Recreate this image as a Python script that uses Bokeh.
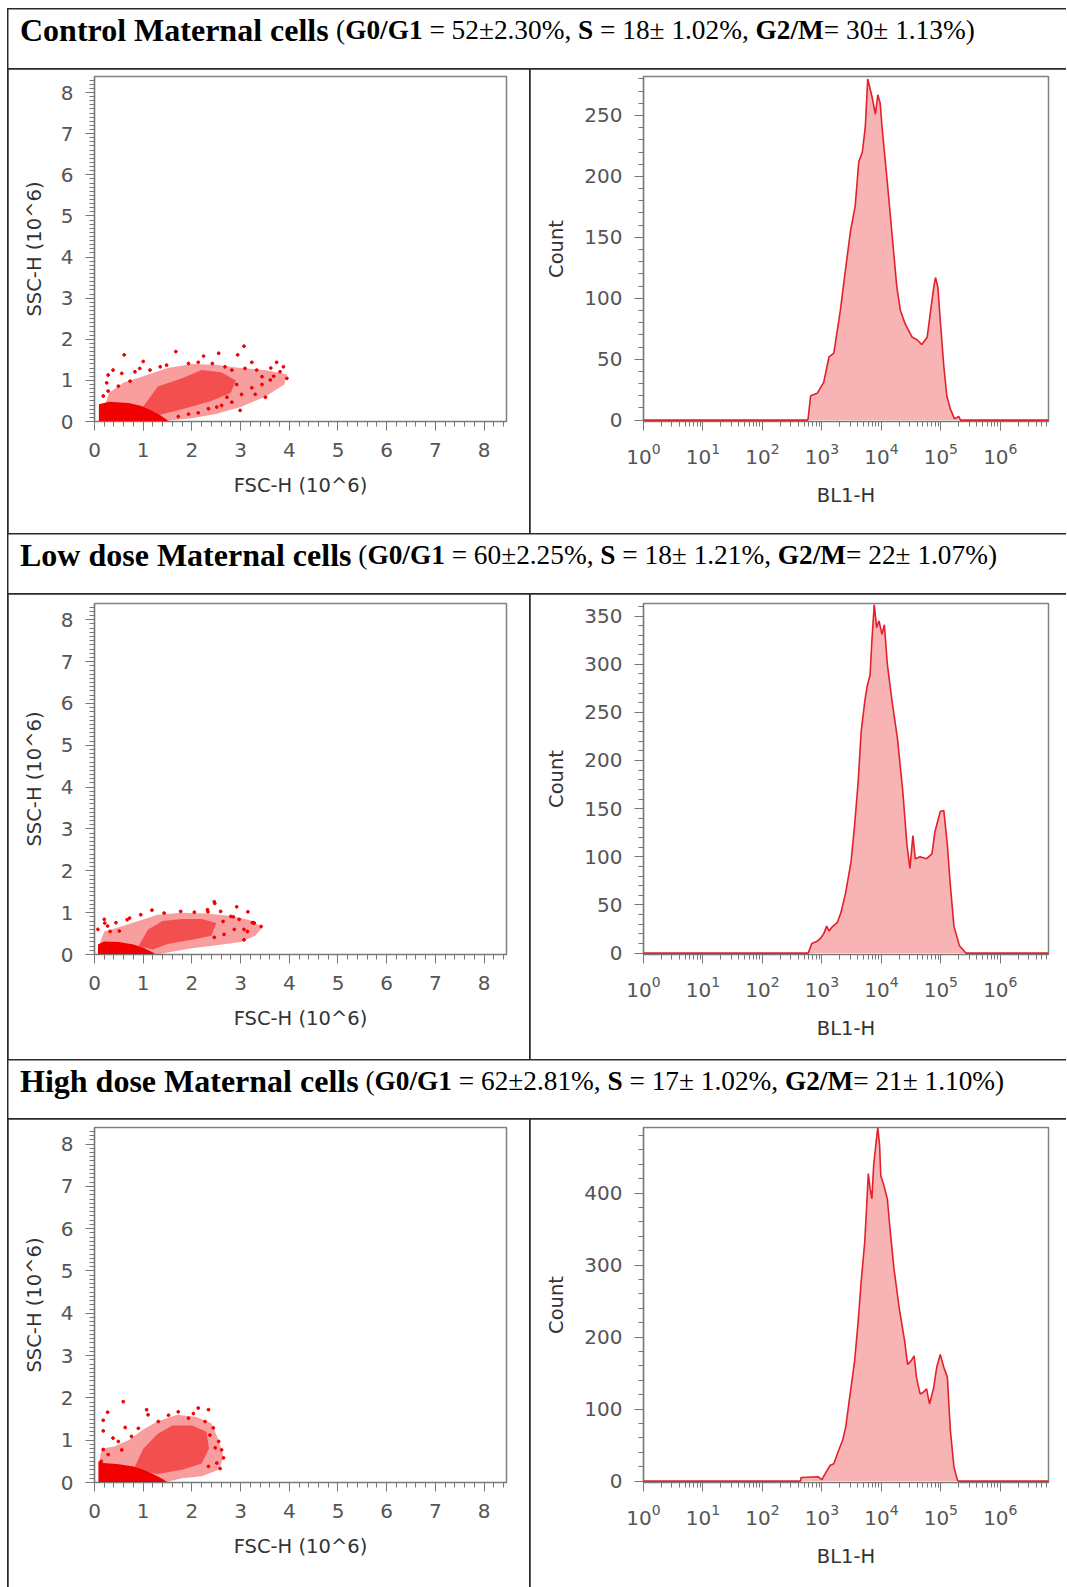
from bokeh.plotting import figure
from bokeh.models import Range1d, SingleIntervalTicker, LogTicker
from bokeh.layouts import row, column
from bokeh.embed import file_html
from bokeh.resources import INLINE
from bokeh.core.properties import value

# ---------------- header data ----------------
groups = ["Control Maternal cells", "Low dose Maternal cells", "High dose Maternal cells"]
g0g1_mean = [52, 60, 62]
g0g1_sd = [2.30, 2.25, 2.81]
s_mean = [18, 18, 17]
s_sd = [1.02, 1.21, 1.02]
g2m_mean = [30, 22, 21]
g2m_sd = [1.13, 1.07, 1.10]

# ---------------- scatter data (FSC-H, SSC-H in 10^6) ----------------
# dense core outline
ctrl_core_x = [0.09, 0.09, 0.30, 0.70, 0.95, 1.15, 1.35, 1.50, 1.50]
ctrl_core_y = [0.00, 0.42, 0.48, 0.45, 0.38, 0.28, 0.15, 0.03, 0.00]
# medium density outline
ctrl_mid_x = [0.90, 1.30, 1.80, 2.20, 2.60, 2.90, 2.80, 2.40, 1.80, 1.30]
ctrl_mid_y = [0.20, 0.85, 1.05, 1.25, 1.20, 1.00, 0.70, 0.50, 0.30, 0.15]
# sparse outline
ctrl_out_x = [0.20, 0.30, 0.60, 1.00, 1.50, 2.00, 2.50, 3.00, 3.50, 3.95, 3.90, 3.50, 3.00, 2.50, 2.00, 1.50, 1.40]
ctrl_out_y = [0.35, 0.70, 0.95, 1.10, 1.30, 1.40, 1.38, 1.30, 1.25, 1.15, 0.90, 0.60, 0.35, 0.18, 0.08, 0.02, 0.00]
# scattered events
ctrl_pts_x = [0.61, 1.67, 3.07, 2.94, 2.55, 2.24, 1.00, 0.38, 3.74, 3.88, 3.95, 3.62, 3.44, 3.51, 3.23, 0.25,
              0.28, 0.56, 2.99, 3.30, 2.82, 2.51, 3.68, 0.83, 0.93, 1.14, 1.35, 1.48, 1.93, 2.13, 2.42, 2.68,
              2.82, 3.09, 3.33, 3.44, 3.23, 3.02, 2.92, 2.72, 2.61, 2.34, 2.13, 1.93, 1.72, 0.28, 0.18, 0.49,
              0.73, 3.61, 3.81]
ctrl_pts_y = [1.62, 1.70, 1.83, 1.62, 1.66, 1.59, 1.46, 1.25, 1.44, 1.33, 1.05, 1.30, 1.09, 0.59, 1.44, 0.94,
              1.13, 1.17, 0.27, 0.66, 0.47, 0.35, 1.10, 1.21, 1.29, 1.25, 1.33, 1.37, 1.41, 1.44, 1.41, 1.33,
              1.25, 1.29, 1.25, 0.90, 0.82, 0.66, 0.90, 0.59, 0.39, 0.31, 0.21, 0.18, 0.12, 0.74, 0.62, 0.86,
              0.98, 1.01, 1.21]

low_core_x = [0.07, 0.07, 0.20, 0.50, 0.80, 1.00, 1.20, 1.25]
low_core_y = [0.00, 0.24, 0.31, 0.30, 0.24, 0.16, 0.05, 0.00]
low_mid_x = [0.90, 1.10, 1.40, 1.80, 2.20, 2.50, 2.40, 2.00, 1.50, 1.20]
low_mid_y = [0.20, 0.60, 0.80, 0.85, 0.85, 0.75, 0.45, 0.35, 0.25, 0.12]
low_out_x = [0.10, 0.20, 0.50, 0.90, 1.30, 1.80, 2.30, 2.80, 3.20, 3.45, 3.30, 3.00, 2.50, 2.00, 1.50, 1.30]
low_out_y = [0.25, 0.55, 0.65, 0.80, 0.95, 1.00, 0.98, 0.92, 0.82, 0.65, 0.45, 0.30, 0.22, 0.15, 0.05, 0.00]
low_pts_x = [2.47, 2.92, 3.15, 2.33, 1.18, 0.21, 3.42, 3.28, 3.07, 3.14, 2.85, 2.64, 0.32, 0.67, 2.46, 3.24,
             0.20, 0.44, 0.72, 0.95, 1.43, 1.77, 2.05, 2.32, 2.59, 2.80, 2.97, 2.87, 2.66, 2.46, 3.27, 3.07,
             0.07, 0.27, 0.51]
low_pts_y = [1.22, 1.14, 1.02, 1.02, 1.06, 0.75, 0.67, 0.75, 0.35, 0.55, 0.90, 0.79, 0.55, 0.83, 1.26, 0.76,
             0.84, 0.76, 0.87, 0.95, 0.99, 1.03, 1.01, 1.07, 1.03, 0.91, 0.84, 0.60, 0.48, 0.41, 0.76, 0.60,
             0.60, 0.68, 0.56]

high_core_x = [0.08, 0.08, 0.20, 0.50, 0.80, 1.00, 1.20, 1.40, 1.50]
high_core_y = [0.00, 0.50, 0.46, 0.43, 0.38, 0.30, 0.20, 0.08, 0.00]
high_mid_x = [0.80, 1.00, 1.30, 1.60, 2.00, 2.30, 2.35, 2.20, 1.80, 1.30]
high_mid_y = [0.30, 0.80, 1.15, 1.35, 1.35, 1.20, 0.80, 0.45, 0.30, 0.20]
high_out_x = [0.10, 0.15, 0.40, 0.70, 1.00, 1.30, 1.70, 2.10, 2.40, 2.55, 2.65, 2.55, 2.20, 1.80, 1.50, 1.50]
high_out_y = [0.50, 0.80, 0.85, 1.00, 1.25, 1.45, 1.60, 1.55, 1.40, 1.00, 0.60, 0.30, 0.15, 0.10, 0.02, 0.00]
high_pts_x = [0.59, 0.27, 0.18, 1.07, 1.10, 2.13, 2.65, 2.58, 2.34, 0.18, 0.63, 0.49, 0.18, 2.48, 2.44,
              1.52, 1.72, 1.93, 2.03, 2.27, 2.37, 2.55, 2.61, 2.51, 2.34, 1.31, 0.90, 0.76, 0.38, 0.28, 0.56, 0.14]
high_pts_y = [1.91, 1.66, 1.47, 1.72, 1.60, 1.76, 0.58, 0.33, 1.72, 1.22, 1.30, 0.97, 0.78, 0.82, 1.29,
              1.59, 1.67, 1.52, 1.63, 1.44, 1.12, 0.97, 0.77, 0.46, 0.38, 1.44, 1.28, 1.09, 1.05, 0.66, 0.77, 0.50]

# ---------------- histogram data (log10 BL1-H, Count) ----------------
ctrl_log = [0.0, 2.76, 2.77, 2.81, 2.92, 3.03, 3.12, 3.20, 3.31, 3.40, 3.48, 3.56, 3.62, 3.68, 3.73, 3.77,
            3.84, 3.90, 3.94, 3.98, 4.01, 4.10, 4.18, 4.26, 4.32, 4.40, 4.52, 4.60, 4.68, 4.77, 4.82, 4.88,
            4.91, 4.95, 4.99, 5.05, 5.10, 5.16, 5.23, 5.30, 5.33, 6.81]
ctrl_cnt = [0, 0, 2, 20, 22, 31, 52, 55, 90, 125, 155, 176, 212, 220, 241, 280,
            266, 251, 267, 260, 241, 195, 152, 109, 90, 79, 68, 66, 62, 68, 87, 109,
            117, 109, 82, 44, 20, 9, 1, 3, 0, 0]

low_log = [0.0, 2.77, 2.83, 2.91, 2.97, 3.03, 3.08, 3.12, 3.17, 3.26, 3.32, 3.40, 3.49, 3.55, 3.61, 3.66,
           3.72, 3.76, 3.81, 3.84, 3.88, 3.92, 3.96, 4.01, 4.05, 4.10, 4.18, 4.27, 4.36, 4.43, 4.48, 4.53,
           4.57, 4.65, 4.76, 4.85, 4.90, 4.99, 5.05, 5.11, 5.16, 5.22, 5.31, 5.42, 6.81]
low_cnt = [0, 0, 10, 12, 15, 20, 28, 23, 27, 32, 42, 63, 95, 133, 178, 230,
           261, 277, 289, 324, 362, 338, 345, 331, 341, 300, 261, 223, 168, 112, 88, 122,
           98, 100, 98, 103, 126, 147, 148, 112, 70, 28, 8, 0, 0]

high_log = [0.0, 2.64, 2.65, 2.94, 3.00, 3.06, 3.14, 3.20, 3.26, 3.35, 3.40, 3.46, 3.55, 3.61, 3.66, 3.72,
            3.75, 3.78, 3.81, 3.84, 3.87, 3.91, 3.94, 3.97, 3.99, 4.04, 4.10, 4.15, 4.21, 4.30, 4.39, 4.44,
            4.50, 4.55, 4.59, 4.65, 4.70, 4.76, 4.81, 4.88, 4.93, 4.99, 5.05, 5.11, 5.16, 5.22, 5.28, 5.30, 6.81]
high_cnt = [0, 0, 5, 6, 2, 11, 22, 24, 38, 57, 75, 112, 167, 222, 277, 332,
            378, 427, 406, 392, 438, 470, 491, 466, 424, 411, 392, 346, 296, 240, 195, 162,
            167, 174, 144, 121, 123, 128, 107, 130, 158, 176, 158, 144, 70, 20, 1, 0, 0]

# ---------------- helpers ----------------
RED = "#f00000"
AX = "#777777"
TICKC = "#555555"
GRIDC = "#2a2a2a"

REG_W = {' ': .25, '(': .333, ')': .333, '=': .564, '±': .549, '%': .833, ',': .25, '.': .25, '/': .278}
BOLD_W = {' ': .25, '/': .278, 'G': .778, 'S': .556, 'M': .944, 'C': .722, 'L': .667, 'H': .778,
          'o': .5, 'n': .556, 't': .333, 'r': .444, 'l': .278, 'a': .5, 'e': .444, 'c': .444,
          's': .389, 'w': .722, 'd': .556, 'i': .278, 'g': .5, 'h': .556}
for dgt in "0123456789":
    REG_W[dgt] = .5
    BOLD_W[dgt] = .5

HW = 1058
HEADER_H = [59, 59, 58]
ROW_H = [464, 465, 468]
CW_L, CW_R = 521, 536
HIST_TOP = [4, 9, 8]
HIST_Y0 = [352, 360, 363]
SC_TOP = 7
SC_Y0 = 365


def header(i):
    H = HEADER_H[i]
    p = figure(width=HW, height=H, x_range=Range1d(0, HW), y_range=Range1d(0, H), title=None,
               output_backend="svg", toolbar_location=None, x_axis_type=None, y_axis_type=None,
               min_border=0)
    p.outline_line_color = None
    segs = [(groups[i], "T"), (" (", "R"), ("G0/G1", "B"),
            (f" = {g0g1_mean[i]}±{g0g1_sd[i]:.2f}%, ", "R"), ("S", "B"),
            (f" = {s_mean[i]}± {s_sd[i]:.2f}%, ", "R"), ("G2/M", "B"),
            (f"= {g2m_mean[i]}± {g2m_sd[i]:.2f}%)", "R")]
    x = 11.5
    for txt, st in segs:
        size = 32 if st == "T" else 27.3
        table = REG_W if st == "R" else BOLD_W
        lead = len(txt) - len(txt.lstrip(' '))
        p.text(x=[x + lead * table[' '] * size], y=[H - 20.5], text=[txt.strip()],
               text_font=value("Liberation Serif"),
               text_font_style="normal" if st == "R" else "bold",
               text_font_size=value(f"{size}px"), text_color="black",
               text_baseline="alphabetic", text_align="left")
        x += sum(table[c] for c in txt) * size
    return p


def style_axes(p):
    p.xgrid.visible = False
    p.ygrid.visible = False
    p.outline_line_color = "#808080"
    p.outline_line_width = 1.5
    for ax in p.axis:
        ax.major_label_text_font = "DejaVu Sans"
        ax.major_label_text_font_size = "20px"
        ax.major_label_text_color = TICKC
        ax.axis_label_text_font = "DejaVu Sans"
        ax.axis_label_text_font_size = "19.5px"
        ax.axis_label_text_font_style = "normal"
        ax.axis_label_text_color = "#333333"
        ax.axis_line_color = AX
        ax.axis_line_width = 1.2
        ax.major_tick_line_color = AX
        ax.minor_tick_line_color = AX
        ax.major_tick_in = 0
        ax.minor_tick_in = 0
        ax.major_tick_out = 9
        ax.minor_tick_out = 5
        ax.major_label_standoff = 12


def scatter_fig(i, core, mid, out, pts):
    H = ROW_H[i]
    p = figure(width=CW_L, height=H, x_range=Range1d(0, 8.46), y_range=Range1d(0, 8.39), title=None,
               output_backend="svg", toolbar_location=None,
               min_border_left=86, min_border_right=23, min_border_top=SC_TOP,
               min_border_bottom=H - SC_Y0)
    p.patch(out[0], out[1], fill_color=RED, fill_alpha=0.38, line_color=None)
    p.patch(mid[0], mid[1], fill_color=RED, fill_alpha=0.50, line_color=None)
    p.patch(core[0], core[1], fill_color=RED, fill_alpha=1.0, line_color=None)
    p.scatter(pts[0], pts[1], size=2.8, marker="circle", color=RED)
    p.xaxis.ticker = SingleIntervalTicker(interval=1, num_minor_ticks=5)
    p.yaxis.ticker = SingleIntervalTicker(interval=1, num_minor_ticks=10)
    p.xaxis.axis_label = "FSC-H (10^6)"
    p.yaxis.axis_label = "SSC-H (10^6)"
    style_axes(p)
    p.xaxis.axis_label_standoff = 14
    p.yaxis.axis_label_standoff = 12
    return p


def hist_fig(i, logs, cnts, ymax, step):
    H = ROW_H[i]
    xs = [10 ** v for v in logs]
    p = figure(width=CW_R, height=H, x_axis_type="log", title=None,
               x_range=Range1d(1, 10 ** 6.81), y_range=Range1d(-ymax * 0.004, ymax),
               output_backend="svg", toolbar_location=None,
               min_border_left=113, min_border_right=18, min_border_top=HIST_TOP[i],
               min_border_bottom=H - HIST_Y0[i])
    p.varea(x=xs, y1=0, y2=cnts, fill_color="#f8b4b4", fill_alpha=1.0)
    p.line(xs, cnts, line_color="#e3202b", line_width=1.6)
    p.xaxis.ticker = LogTicker(num_minor_ticks=10)
    p.yaxis.ticker = SingleIntervalTicker(interval=step, num_minor_ticks=5)
    p.xaxis.axis_label = "BL1-H"
    p.yaxis.axis_label = "Count"
    style_axes(p)
    p.xaxis.axis_label_standoff = 17
    p.yaxis.axis_label_standoff = 13
    return p


sc1 = scatter_fig(0, (ctrl_core_x, ctrl_core_y), (ctrl_mid_x, ctrl_mid_y), (ctrl_out_x, ctrl_out_y), (ctrl_pts_x, ctrl_pts_y))
sc2 = scatter_fig(1, (low_core_x, low_core_y), (low_mid_x, low_mid_y), (low_out_x, low_out_y), (low_pts_x, low_pts_y))
sc3 = scatter_fig(2, (high_core_x, high_core_y), (high_mid_x, high_mid_y), (high_out_x, high_out_y), (high_pts_x, high_pts_y))
h1 = hist_fig(0, ctrl_log, ctrl_cnt, 282, 50)
h2 = hist_fig(1, low_log, low_cnt, 363, 50)
h3 = hist_fig(2, high_log, high_cnt, 491, 100)

r1 = row(sc1, h1, spacing=1, styles={"background-color": GRIDC})
r2 = row(sc2, h2, spacing=1, styles={"background-color": GRIDC})
r3 = row(sc3, h3, spacing=1, styles={"background-color": GRIDC})
layout = column(header(0), r1, header(1), r2, header(2), r3, spacing=1,
                styles={"background-color": GRIDC, "padding": "1px 0px 0px 1px",
                        "margin-left": "7px", "margin-top": "8px"})

open("out.html", "w").write(file_html(layout, INLINE))
